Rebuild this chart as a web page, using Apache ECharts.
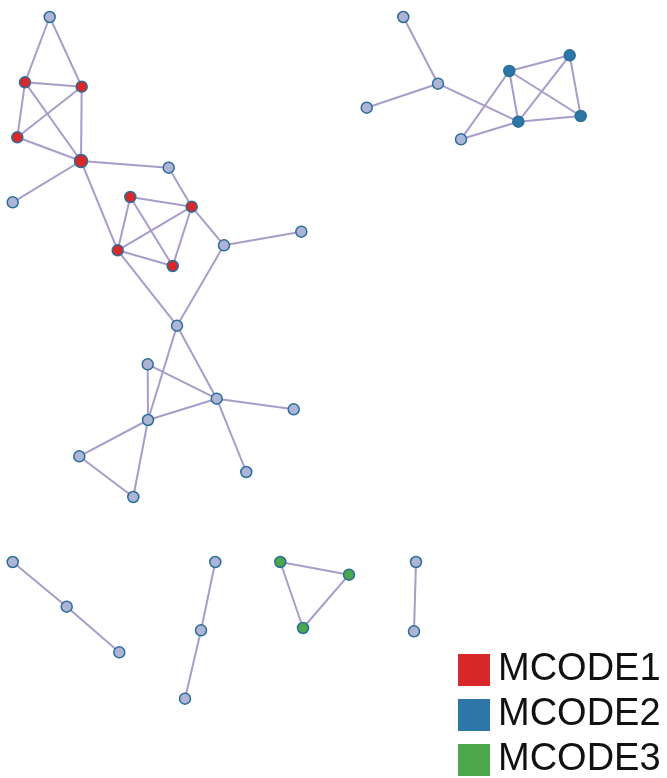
<!DOCTYPE html>
<html>
<head>
<meta charset="utf-8">
<script src="https://cdn.jsdelivr.net/npm/echarts@6/dist/echarts.min.js"></script>
<style>
html,body{margin:0;padding:0;background:#fff;}
#chart{width:667px;height:778px;}
</style>
</head>
<body>
<div id="chart"></div>
<script>
// Node data (positions, in picture units)
var nodeX = [49.7,25,81.7,17.3,81,12.7,168.7,130.3,191.7,117.7,172.7,224,301.3,177,147.7,216.7,293.7,148,79.3,246.3,133.3,403.3,438,366.7,509.3,569.7,518.3,580.7,461,12.7,66.7,119.3,215.3,201,185,280.3,349,303,416,414];
var nodeY = [17,82.3,86.7,137.3,161,202.3,167.7,197,206.7,250.3,266,245.3,231.7,325.7,364.3,398.7,409.3,420,456.3,472,497,17,83.7,107.7,71,55.3,121.7,116,139.3,562,606.7,652.3,562,630.3,698.7,562,574.7,628,562,631.3];
// 0 = not in a cluster, 1..3 = MCODE cluster
var nodeGroup = [0,1,1,1,1,0,0,1,1,1,1,0,0,0,0,0,0,0,0,0,0,0,0,0,2,2,2,2,0,0,0,0,0,0,0,3,3,3,0,0];
var bigNodes = [4];
var edgeSource = [0,0,1,1,1,2,2,3,4,4,4,6,8,7,7,7,8,8,9,11,11,9,13,13,14,14,15,15,15,17,17,18,21,22,22,24,24,24,24,25,25,26,26,29,30,32,33,35,35,36,38];
var edgeTarget = [1,2,2,3,4,3,4,4,5,6,9,8,11,8,9,10,9,10,10,12,13,13,15,17,17,15,17,16,19,18,20,20,22,23,26,25,26,27,28,26,27,27,28,30,31,33,34,36,37,37,39];
var categoryNames = ['Other','MCODE1','MCODE2','MCODE3'];
var categoryColors = ['#aeb4d6','#d8282a','#2f76a8','#4aa84b'];

var nodes = nodeX.map(function(x,i){
  return {
    name: 'n'+i,
    value: [x, nodeY[i]],
    category: nodeGroup[i],
    symbolSize: bigNodes.indexOf(i) >= 0 ? 13 : 11
  };
});
var links = edgeSource.map(function(s,i){ return {source: s, target: edgeTarget[i]}; });

var chart = echarts.init(document.getElementById('chart'), null, {renderer:'canvas'});
chart.setOption({
  animation: false,
  backgroundColor: '#fff',
  grid: {left:0, right:0, top:0, bottom:0},
  xAxis: {type:'value', min:0, max:667, show:false},
  yAxis: {type:'value', min:0, max:778, inverse:true, show:false},
  legend: {
    data: ['MCODE1','MCODE2','MCODE3'],
    orient: 'vertical',
    left: 458,
    top: 651,
    height: 200,
    padding: 0,
    icon: 'rect',
    itemWidth: 32,
    itemHeight: 32,
    itemGap: 7,
    selectedMode: false,
    itemStyle: {borderWidth: 0},
    textStyle: {fontFamily: 'Liberation Sans, Arial, sans-serif', fontSize: 38, color: '#111', padding: [0,0,0,3]}
  },
  series: [{
    type: 'graph',
    coordinateSystem: 'cartesian2d',
    layout: 'none',
    data: nodes,
    links: links,
    categories: categoryNames.map(function(n,i){
      return {name: n, itemStyle: {color: categoryColors[i]}};
    }),
    symbol: 'circle',
    itemStyle: {borderColor: '#2a6d98', borderWidth: 1.5},
    lineStyle: {color: '#a99cca', width: 2, opacity: 1, curveness: 0},
    label: {show: false},
    emphasis: {disabled: true}
  }]
});
</script>
</body>
</html>
